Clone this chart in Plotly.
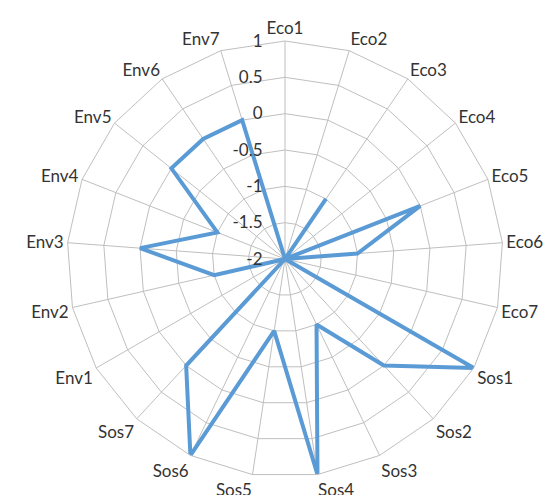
import plotly.graph_objects as go

# Indicator groups around the radar
eco_labels = ["Eco1", "Eco2", "Eco3", "Eco4", "Eco5", "Eco6", "Eco7"]
sos_labels = ["Sos1", "Sos2", "Sos3", "Sos4", "Sos5", "Sos6", "Sos7"]
env_labels = ["Env1", "Env2", "Env3", "Env4", "Env5", "Env6", "Env7"]

eco_values = [-2, -2, -1, -2, 0, -1, -2]
sos_values = [1, 0, -1, 1, -1, 1, 0]
env_values = [-2, -1, 0, -1, 0, 0, 0]

radial_ticks = [-2, -1.5, -1, -0.5, 0, 0.5, 1]
radial_ticktext = ["-2", "-1.5", "-1", "-0.5", "0", "0.5", "1"]

categories = eco_labels + sos_labels + env_labels
values = eco_values + sos_values + env_values

fig = go.Figure()
fig.add_trace(go.Scatterpolar(
    r=values + values[:1],
    theta=categories + categories[:1],
    mode="lines",
    line=dict(color="#5b9bd5", width=4),
    showlegend=False,
))

W, H = 553, 495
cx, cy, R = 285, 259, 218
text_color = "#333333"
fig.update_layout(
    width=W, height=H,
    margin=dict(l=0, r=0, t=0, b=0),
    paper_bgcolor="white",
    plot_bgcolor="white",
    font=dict(family="Lato, 'Open Sans', sans-serif", size=17, color=text_color),
    polar=dict(
        domain=dict(x=[(cx - R) / W, (cx + R) / W],
                    y=[(H - cy - R) / H, (H - cy + R) / H]),
        bgcolor="white",
        gridshape="linear",
        angularaxis=dict(
            rotation=90,
            direction="clockwise",
            categoryorder="array",
            categoryarray=categories,
            showline=True,
            linecolor="#bfbfbf",
            linewidth=1,
            gridcolor="#bfbfbf",
            gridwidth=1,
            ticks="",
            tickfont=dict(size=17, color=text_color),
        ),
        radialaxis=dict(
            range=[-2, 1],
            angle=90,
            tickangle=90,
            side="counterclockwise",
            tickmode="array",
            tickvals=radial_ticks,
            ticktext=radial_ticktext,
            showline=False,
            gridcolor="#bfbfbf",
            gridwidth=1,
            ticks="outside",
            ticklen=16,
            tickcolor="rgba(0,0,0,0)",
            tickfont=dict(size=17, color=text_color),
        ),
    ),
)

fig.write_html("out.html")
